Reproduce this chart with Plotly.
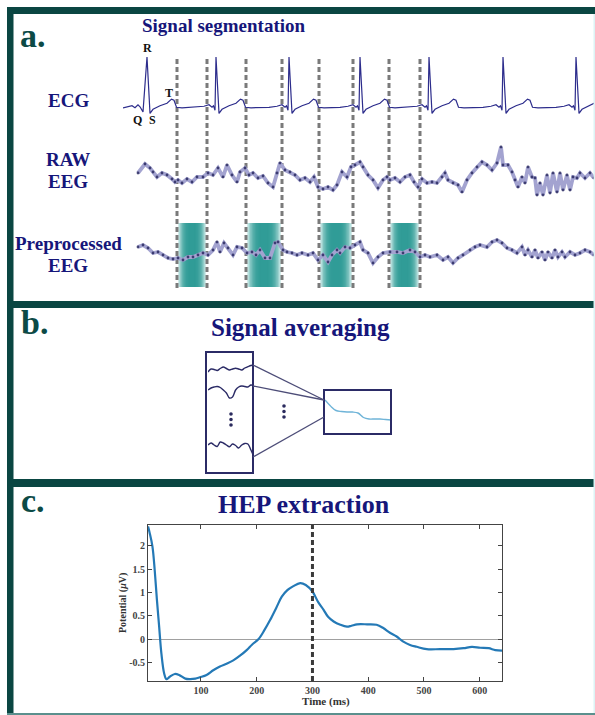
import plotly.graph_objects as go

W, H = 595, 715

# ---------------- panel a: signal segmentation ----------------
# ECG (mV) against time (s)
ecg_t = [0.00, 0.04, 0.09, 0.12, 0.15, 0.17, 0.20, 0.24, 0.27, 0.30, 0.37, 0.44, 0.485, 0.51, 0.535, 0.59,
         0.73, 0.81, 0.86, 0.89, 0.905, 0.92, 0.93, 0.96, 0.99, 1.06, 1.13, 1.175, 1.20, 1.225, 1.28,
         1.46, 1.54, 1.59, 1.62, 1.635, 1.65, 1.66, 1.69, 1.72, 1.79, 1.86, 1.905, 1.93, 1.955, 2.01,
         2.17, 2.25, 2.30, 2.33, 2.345, 2.36, 2.37, 2.40, 2.43, 2.50, 2.57, 2.615, 2.64, 2.665, 2.72,
         2.86, 2.94, 2.99, 3.02, 3.035, 3.05, 3.06, 3.09, 3.12, 3.19, 3.26, 3.305, 3.33, 3.355, 3.41,
         3.60, 3.68, 3.73, 3.76, 3.775, 3.79, 3.80, 3.83, 3.86, 3.93, 4.00, 4.045, 4.07, 4.095, 4.15,
         4.33, 4.41, 4.46, 4.49, 4.505, 4.52, 4.53, 4.56, 4.59, 4.66, 4.72]
ecg_mv = [0.00, 0.02, 0.04, 0.00, 0.06, 0.02, -0.08, 1.00, -0.11, -0.03, 0.04, 0.09, 0.17, 0.15, 0.01, 0.00,
          0.01, 0.03, 0.06, 0.01, 0.04, -0.05, 1.00, -0.11, -0.03, 0.04, 0.09, 0.17, 0.15, 0.01, 0.00,
          0.01, 0.03, 0.06, 0.01, 0.04, -0.05, 1.00, -0.11, -0.03, 0.04, 0.09, 0.17, 0.15, 0.01, 0.00,
          0.01, 0.03, 0.06, 0.01, 0.04, -0.05, 1.00, -0.11, -0.03, 0.04, 0.09, 0.17, 0.15, 0.01, 0.00,
          0.01, 0.03, 0.06, 0.01, 0.04, -0.05, 1.00, -0.11, -0.03, 0.04, 0.09, 0.17, 0.15, 0.01, 0.00,
          0.01, 0.03, 0.06, 0.01, 0.04, -0.05, 1.00, -0.11, -0.03, 0.04, 0.09, 0.17, 0.15, 0.01, 0.00,
          0.01, 0.03, 0.06, 0.01, 0.04, -0.05, 1.00, -0.11, -0.03, 0.04, 0.10]

# raw EEG (uV)
raw_t = [0.15, 0.22, 0.27, 0.30, 0.34, 0.39, 0.44, 0.49, 0.52, 0.55, 0.59, 0.64, 0.69, 0.74, 0.80, 0.85,
         0.90, 0.95, 1.00, 1.04, 1.09, 1.14, 1.17, 1.22, 1.26, 1.30, 1.35, 1.40, 1.45, 1.50, 1.54, 1.57,
         1.62, 1.67, 1.72, 1.77, 1.82, 1.87, 1.91, 1.95, 2.00, 2.05, 2.10, 2.14, 2.19, 2.24, 2.28, 2.32,
         2.37, 2.40, 2.45, 2.50, 2.55, 2.60, 2.64, 2.67, 2.72, 2.77, 2.82, 2.87, 2.91, 2.95, 2.99, 3.04,
         3.09, 3.14, 3.19, 3.22, 3.25, 3.30, 3.35, 3.39, 3.44, 3.49, 3.54, 3.59, 3.64, 3.69, 3.74, 3.78,
         3.80, 3.85, 3.89, 3.92, 3.95, 3.99, 4.02, 4.05, 4.09, 4.12, 4.14, 4.17, 4.20, 4.24, 4.27, 4.30,
         4.34, 4.37, 4.40, 4.44, 4.47, 4.50, 4.54, 4.57, 4.62, 4.67, 4.71]
raw_uv = [2, 11, 7, 3, -2, 2, 0, -4, -7, -5, -8, -4, -7, -2, -2, 2,
          0, 7, -2, 10, 0, -7, 3, 7, 0, 2, -3, -1, -8, -12, 2, 12,
          5, 3, 0, -5, -3, -7, -2, -12, -14, -12, -15, -10, 3, -2, 8, 10,
          13, 8, 0, -5, -13, -5, -2, -5, -3, -7, -2, 0, -7, -12, -4, -8,
          -7, -8, -2, 2, -5, -8, -10, -17, -5, 2, 8, 13, 10, 5, 12, 28,
          10, 10, 3, -5, -12, -2, -8, 8, -2, -3, -20, -8, -20, 0, -18, 2,
          -17, 2, -15, 0, -15, -2, -3, 2, -3, 2, -3]

# preprocessed EEG (uV)
pre_t = [0.15, 0.20, 0.25, 0.30, 0.35, 0.40, 0.45, 0.50, 0.55, 0.60, 0.65, 0.70, 0.75, 0.80, 0.85, 0.90,
         0.94, 0.97, 1.01, 1.05, 1.10, 1.14, 1.19, 1.24, 1.29, 1.33, 1.37, 1.42, 1.47, 1.52, 1.55, 1.60,
         1.64, 1.69, 1.74, 1.79, 1.85, 1.90, 1.95, 2.00, 2.05, 2.09, 2.14, 2.17, 2.22, 2.27, 2.32, 2.37,
         2.40, 2.45, 2.50, 2.55, 2.60, 2.67, 2.74, 2.80, 2.87, 2.92, 2.97, 3.02, 3.07, 3.14, 3.20, 3.25,
         3.30, 3.35, 3.40, 3.47, 3.52, 3.57, 3.64, 3.69, 3.74, 3.79, 3.84, 3.89, 3.94, 3.99, 4.02, 4.05,
         4.09, 4.12, 4.15, 4.19, 4.22, 4.25, 4.29, 4.32, 4.35, 4.39, 4.42, 4.47, 4.52, 4.57, 4.62, 4.67, 4.71]
pre_uv = [3, 5, 2, -3, -2, -5, -8, -9, -8, -10, -7, -7, -5, -3, -5, 0,
          8, -2, 7, 2, -5, 3, 2, -3, -2, -5, 0, -8, -8, 7, 8, 0,
          -2, -3, -5, -3, -5, -3, -10, -5, -12, -5, 0, -3, 3, 2, 5, 8,
          0, -3, -13, -7, -3, -2, -2, -3, 0, -2, -7, -5, -7, -5, -10, -7,
          -13, -8, -5, 0, 3, 5, 3, 8, 10, 7, 2, 0, -3, 3, -5, 0,
          -7, 0, -8, -2, -10, -2, -8, 0, -7, -2, -7, -2, -5, -3, 0, -2, -5]

# heartbeat-locked analysis windows (s)
seg_start = [0.54, 1.23, 1.96, 2.66]
seg_end = [0.84, 1.59, 2.30, 2.97]

# ---------------- panel b: averaging schematic ----------------
trial_ms = [0, 40, 80, 120, 160, 200, 240, 280, 320, 360, 400, 440, 480, 520, 560, 600]
trial_1 = [-3, 0, -0.5, -1.5, 0.5, 2, 0.5, -1, 0, 0.7, 0, -1, 1, 2.3, 3.5, 4]
trial_2 = [-2, 0, 1, 1.5, 0.5, -2, -5, -10, -9, -2, 1, 2, 1.5, 1, 3, 2]
trial_3 = [0, 2, 0, -1.5, 3, 2, 0, -1.7, 1, -0.5, -3, 0, 1.5, 1, -5, -12]
avg_ms = [0, 50, 100, 150, 200, 250, 300, 350, 400, 450, 500, 550, 600]
avg_uv = [10, 4, -0.5, -1.5, -2, -2, -3, -7.5, -9, -9, -9, -9.5, -10]

# ---------------- panel c: heartbeat evoked potential ----------------
hep_ms = [5, 8, 13, 17, 21, 25, 29, 34, 38, 44, 53, 62, 72, 80, 90, 98, 110, 122, 134, 146, 158, 170,
          182, 192, 203, 214, 224, 235, 245, 255, 265, 278, 288, 300, 310, 320, 328, 338, 350, 362,
          370, 380, 398, 415, 427, 439, 451, 463, 475, 487, 505, 529, 553, 571, 586, 601, 616, 628, 640]
hep_uv = [2.41, 2.27, 1.98, 1.48, 0.84, 0.27, -0.30, -0.73, -0.85, -0.80, -0.74, -0.77, -0.84, -0.85,
          -0.84, -0.81, -0.76, -0.66, -0.58, -0.52, -0.45, -0.35, -0.23, -0.11, 0.00, 0.20, 0.41, 0.67,
          0.91, 1.05, 1.13, 1.20, 1.16, 1.02, 0.80, 0.63, 0.48, 0.38, 0.31, 0.27, 0.29, 0.32, 0.32, 0.31,
          0.24, 0.14, 0.06, -0.05, -0.12, -0.16, -0.21, -0.21, -0.21, -0.19, -0.16, -0.18, -0.19, -0.23, -0.24]
hep_xticks = [100, 200, 300, 400, 500, 600]
hep_yticks = [-0.5, 0, 0.5, 1, 1.5, 2]
hep_ylabels = ["-0.5", "0", "0.5", "1", "1.5", "2"]
marker_ms = 300

# ---------------- styling ----------------
SERIF = "Liberation Serif"
NAVY = "#16167a"
FRAME = "#0a4642"
ECG_C = "#2d2d8c"
EEG_C = "#a3a3d0"
EEG_DOT = "#2a2a60"
BOX_C = "#2b2b66"
HEP_C = "#2479b6"


def fx(p):
    return p / W


def fy(p):
    return 1 - p / H


fig = go.Figure()

# panel a traces
fig.add_trace(go.Scatter(x=ecg_t, y=ecg_mv, xaxis="x", yaxis="y", mode="lines",
                         line=dict(color=ECG_C, width=1.2)))
for t, v, ya in ((raw_t, raw_uv, "y2"), (pre_t, pre_uv, "y3")):
    fig.add_trace(go.Scatter(x=t, y=v, xaxis="x", yaxis=ya, mode="lines+markers",
                             line=dict(color=EEG_C, width=3.8),
                             marker=dict(color=EEG_DOT, size=2.8, opacity=0.85)))

# panel b traces
for v, ya in ((trial_1, "y4"), (trial_2, "y5"), (trial_3, "y6")):
    fig.add_trace(go.Scatter(x=trial_ms, y=v, xaxis="x2", yaxis=ya, mode="lines",
                             line=dict(color=BOX_C, width=1.4, shape="spline")))
fig.add_trace(go.Scatter(x=avg_ms, y=avg_uv, xaxis="x3", yaxis="y7", mode="lines",
                         line=dict(color="#6fb4d8", width=1.4, shape="spline")))

# panel c trace
fig.add_trace(go.Scatter(x=hep_ms, y=hep_uv, xaxis="x4", yaxis="y8", mode="lines",
                         line=dict(color=HEP_C, width=2.2, shape="spline")))

shapes = []

# shaded analysis windows: nested rectangles give a soft fade at the sides
edge = (198, 231, 229)
core = (48, 156, 151)
n = 10
for s, e in zip(seg_start, seg_end):
    a0, a1 = s + 0.012, e - 0.012
    half = (a1 - a0) / 2
    for i in range(n):
        u = 1 - i / n
        k = 1 - u ** 3
        col = tuple(int(edge[j] + (core[j] - edge[j]) * k) for j in range(3))
        inset = half * i / n * 0.9
        shapes.append(dict(type="rect", xref="x", yref="paper",
                           x0=a0 + inset, x1=a1 - inset,
                           y0=fy(287), y1=fy(223), line=dict(width=0),
                           fillcolor="rgb(%d,%d,%d)" % col, layer="below"))

# window boundaries
for t in seg_start + seg_end:
    shapes.append(dict(type="line", xref="x", yref="paper", x0=t, x1=t,
                       y0=fy(288), y1=fy(58), layer="below",
                       line=dict(color="#7a7a7a", width=3, dash="5px,3px")))

# averaging schematic boxes, connectors, ellipses
shapes.append(dict(type="rect", xref="paper", yref="paper", x0=fx(206), x1=fx(253),
                   y0=fy(473), y1=fy(352), line=dict(color=BOX_C, width=2)))
shapes.append(dict(type="rect", xref="paper", yref="paper", x0=fx(324), x1=fx(391),
                   y0=fy(434), y1=fy(390), line=dict(color=BOX_C, width=2)))
for ya, yb in ((365, 400), (386, 400), (457, 417)):
    shapes.append(dict(type="line", xref="paper", yref="paper", x0=fx(253), x1=fx(324),
                       y0=fy(ya), y1=fy(yb), line=dict(color="#4d4d78", width=1.3)))
for cx, cy in ((231, 414), (231, 419.5), (231, 425), (284, 406), (284, 411.5), (284, 417)):
    shapes.append(dict(type="circle", xref="paper", yref="paper", x0=fx(cx - 1.8), x1=fx(cx + 1.8),
                       y0=fy(cy + 1.8), y1=fy(cy - 1.8), line=dict(width=0), fillcolor="#2b2b5e"))

# HEP marker at 300 ms
shapes.append(dict(type="line", xref="x4", yref="y8 domain", x0=marker_ms, x1=marker_ms, y0=0, y1=1,
                   line=dict(color="#3a3a3a", width=3, dash="5px,3px")))

# frame bands
for x0, x1, y0, y1, c in ((7, 595, 7, 14, FRAME), (7, 13.5, 7, 715, FRAME),
                          (7, 595, 301, 308, FRAME), (7, 595, 479, 487, FRAME),
                          (7, 595, 713, 715, "#5b8f8d"), (593.5, 595, 14, 713, "#dcf3f5")):
    shapes.append(dict(type="rect", xref="paper", yref="paper", x0=fx(x0), x1=fx(x1),
                       y0=fy(y1), y1=fy(y0), line=dict(width=0), fillcolor=c, layer="above"))

annotations = []


def label(text, x, y, size, color, **kw):
    annotations.append(dict(text=text, x=fx(x), y=fy(y), xref="paper", yref="paper",
                            showarrow=False, xanchor=kw.pop("xanchor", "center"),
                            yanchor=kw.pop("yanchor", "middle"),
                            font=dict(family=SERIF, size=size, color=color), **kw))


label("<b>a.</b>", 33, 35, 34, "#0c4a46")
label("<b>b.</b>", 34, 322, 34, "#0c4a46")
label("<b>c.</b>", 33, 500, 34, "#0c4a46")
label("<b>Signal segmentation</b>", 224, 25, 19, NAVY)
label("<b>Signal averaging</b>", 300, 327, 25, NAVY)
label("<b>HEP extraction</b>", 304, 504, 26, NAVY)
label("<b>ECG</b>", 68, 100, 19, NAVY)
label("<b>RAW</b>", 68, 160, 19, NAVY)
label("<b>EEG</b>", 68, 182, 19, NAVY)
label("<b>Preprocessed</b>", 68, 243, 19, NAVY)
label("<b>EEG</b>", 68, 265, 19, NAVY)
label("<b>R</b>", 147, 48, 12, "#111111")
label("<b>Q</b>", 137, 120, 12, "#111111")
label("<b>S</b>", 153, 120, 12, "#111111")
label("<b>T</b>", 169, 93, 12, "#111111")
label("<b>Potential (<i>μ</i>V)</b>", 123, 603, 10, "#333333", textangle=-90)
label("<b>Time (ms)</b>", 326, 701, 11, "#333333")

hidden = dict(visible=False, fixedrange=True)
tickfont = dict(family=SERIF, size=10, color="#444444", weight="bold")

fig.update_layout(
    width=W, height=H, autosize=False,
    margin=dict(l=0, r=0, t=0, b=0, pad=0),
    paper_bgcolor="white", plot_bgcolor="rgba(0,0,0,0)",
    showlegend=False,
    xaxis=dict(domain=[fx(123), fx(595)], range=[0, 4.72], anchor="y", **hidden),
    yaxis=dict(domain=[fy(123), fy(52)], range=[-0.3, 1.1], anchor="x", **hidden),
    yaxis2=dict(domain=[fy(210), fy(145)], range=[-35, 30], anchor="x", **hidden),
    yaxis3=dict(domain=[fy(270), fy(235)], range=[-20, 15], anchor="x", **hidden),
    xaxis2=dict(domain=[fx(208), fx(254)], range=[0, 600], anchor="y4", **hidden),
    yaxis4=dict(domain=[fy(377), fy(361)], range=[-8, 8], anchor="x2", **hidden),
    yaxis5=dict(domain=[fy(401), fy(375)], range=[-13, 13], anchor="x2", **hidden),
    yaxis6=dict(domain=[fy(459), fy(431)], range=[-14, 14], anchor="x2", **hidden),
    xaxis3=dict(domain=[fx(325), fx(391)], range=[0, 600], anchor="y7", **hidden),
    yaxis7=dict(domain=[fy(432), fy(388)], range=[-22, 22], anchor="x3", **hidden),
    xaxis4=dict(domain=[fx(148), fx(502)], range=[5, 640], anchor="y8",
                tickvals=hep_xticks, ticktext=[str(v) for v in hep_xticks],
                ticks="inside", ticklen=4, tickcolor="#444444", showline=True,
                linecolor="#444444", linewidth=1, mirror="ticks", showgrid=False,
                zeroline=False, tickfont=tickfont, fixedrange=True),
    yaxis8=dict(domain=[fy(681), fy(525)], range=[-0.89, 2.44], anchor="x4",
                tickvals=hep_yticks, ticktext=hep_ylabels,
                ticks="inside", ticklen=4, tickcolor="#444444", showline=True,
                linecolor="#444444", linewidth=1, mirror="ticks", showgrid=False,
                zeroline=True, zerolinecolor="#a0a0a0", zerolinewidth=1,
                tickfont=tickfont, fixedrange=True),
    shapes=shapes,
    annotations=annotations,
)

fig.write_html("out.html", config={"displayModeBar": False})
